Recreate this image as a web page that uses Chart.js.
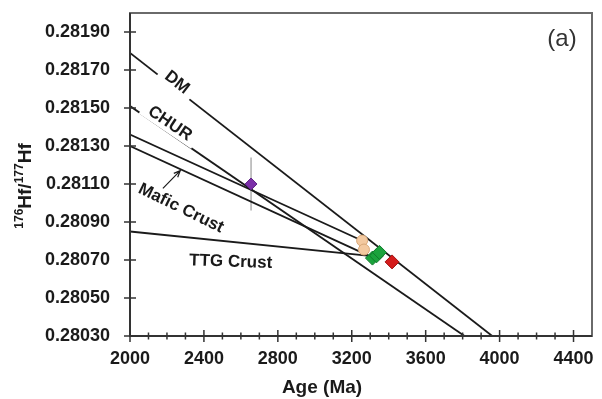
<!DOCTYPE html>
<html>
<head>
<meta charset="utf-8">
<script src="https://cdn.jsdelivr.net/npm/chart.js@4.4.1/dist/chart.umd.min.js"></script>
<style>
  html, body { margin: 0; padding: 0; background: #fff; }
  #wrap { width: 602px; height: 399px; }
</style>
</head>
<body>
<div id="wrap"><canvas id="hfChart" width="602" height="399"></canvas></div>
<script>
// Axis ticks
const xTickLabels = [2000, 2400, 2800, 3200, 3600, 4000, 4400];
const xMinorStep = 100;
const yTickLabels = [0.28030, 0.28050, 0.28070, 0.28090, 0.28110, 0.28130, 0.28150, 0.28170, 0.28190];

// Evolution lines (age in Ma, 176Hf/177Hf)
const dmAge = [2000, 3960];
const dmHf = [0.28179, 0.28030];
const churAge = [2000, 3810];
const churHf = [0.28151, 0.28030];
const mafic1Age = [2000, 3260];
const mafic1Hf = [0.28136, 0.28080];
const mafic2Age = [2000, 3320];
const mafic2Hf = [0.28130, 0.28071];
const ttgAge = [2000, 3310];
const ttgHf = [0.28085, 0.28072];

// Samples
const purpleAge = [2655];
const purpleHf = [0.28110];
const purpleErr = [0.00014];
const peachAge = [3256, 3266];
const peachHf = [0.280802, 0.280755];
const greenAge = [3312, 3334, 3350];
const greenHf = [0.28071, 0.280722, 0.28074];
const redAge = [3418];
const redHf = [0.28069];

// text on the plot
const lineLabels = [
    { text: 'DM', age: 2254, hf: 0.281634, angle: 38, gap: true },
    { text: 'CHUR', age: 2216, hf: 0.281418, angle: 34, gap: true },
    { text: 'Mafic Crust', age: 2276, hf: 0.280972, angle: 26, gap: false },
    { text: 'TTG Crust', age: 2545, hf: 0.280690, angle: 2, gap: false }
];
const maficArrow = { fromAge: 2178, fromHf: 0.281077, toAge: 2272, toHf: 0.281170 };

const pts = (xs, ys) => xs.map((x, i) => ({ x: x, y: ys[i] }));

function lineSet(xs, ys) {
    return {
        data: pts(xs, ys),
        showLine: true,
        borderColor: '#1a1a1a',
        borderWidth: 1.8,
        pointRadius: 0,
        order: 2
    };
}

const FONT = '"Liberation Sans", Arial, sans-serif';

const decorPlugin = {
    id: 'decor',
    beforeDatasetsDraw(chart) {
        const { ctx, chartArea: a, scales: { x, y } } = chart;
        ctx.save();
        // frame
        ctx.strokeStyle = '#6a6a6a';
        ctx.lineWidth = 2;
        ctx.strokeRect(a.left, a.top, a.right - a.left, a.bottom - a.top);
        // error bar
        ctx.strokeStyle = '#9a9a9a';
        ctx.lineWidth = 1.2;
        purpleAge.forEach((age, i) => {
            const px = x.getPixelForValue(age);
            ctx.beginPath();
            ctx.moveTo(px, y.getPixelForValue(purpleHf[i] + purpleErr[i]));
            ctx.lineTo(px, y.getPixelForValue(purpleHf[i] - purpleErr[i]));
            ctx.stroke();
        });
        ctx.restore();
    },
    afterDatasetsDraw(chart) {
        const { ctx, chartArea: a, scales: { x, y } } = chart;
        ctx.save();
        // axis lines and ticks
        ctx.strokeStyle = '#333';
        ctx.lineWidth = 2;
        ctx.beginPath();
        ctx.moveTo(a.left, a.top);
        ctx.lineTo(a.left, a.bottom);
        ctx.lineTo(a.right, a.bottom);
        ctx.stroke();
        ctx.lineWidth = 1.5;
        ctx.beginPath();
        yTickLabels.forEach(v => {
            const py = y.getPixelForValue(v);
            ctx.moveTo(a.left - 6, py);
            ctx.lineTo(a.left + 6, py);
        });
        for (let v = x.min; v < x.max; v += xMinorStep) {
            const px = x.getPixelForValue(v);
            const len = xTickLabels.includes(v) ? 6 : 3.5;
            ctx.moveTo(px, a.bottom - len);
            ctx.lineTo(px, a.bottom + len);
        }
        ctx.stroke();

        // line labels
        lineLabels.forEach(l => {
            const px = x.getPixelForValue(l.age);
            const py = y.getPixelForValue(l.hf);
            ctx.save();
            ctx.translate(px, py);
            ctx.rotate(l.angle * Math.PI / 180);
            ctx.font = 'bold 17px ' + FONT;
            ctx.textAlign = 'center';
            ctx.textBaseline = 'middle';
            if (l.gap) {
                const w = ctx.measureText(l.text).width + 14;
                ctx.fillStyle = '#fff';
                ctx.fillRect(-w / 2, -9, w, 18);
            }
            ctx.fillStyle = '#1a1a1a';
            ctx.fillText(l.text, 0, 0);
            ctx.restore();
        });

        // arrow to mafic crust lines
        const ax0 = x.getPixelForValue(maficArrow.fromAge), ay0 = y.getPixelForValue(maficArrow.fromHf);
        const ax1 = x.getPixelForValue(maficArrow.toAge), ay1 = y.getPixelForValue(maficArrow.toHf);
        const ang = Math.atan2(ay1 - ay0, ax1 - ax0);
        ctx.strokeStyle = '#1a1a1a';
        ctx.lineWidth = 1.2;
        ctx.beginPath();
        ctx.moveTo(ax0, ay0);
        ctx.lineTo(ax1, ay1);
        ctx.moveTo(ax1 - 7 * Math.cos(ang - 0.4), ay1 - 7 * Math.sin(ang - 0.4));
        ctx.lineTo(ax1, ay1);
        ctx.lineTo(ax1 - 7 * Math.cos(ang + 0.4), ay1 - 7 * Math.sin(ang + 0.4));
        ctx.stroke();

        // panel letter
        ctx.fillStyle = '#333';
        ctx.font = '24px ' + FONT;
        ctx.textAlign = 'center';
        ctx.textBaseline = 'middle';
        ctx.fillText('(a)', 562, 39);

        // x title
        ctx.fillStyle = '#1a1a1a';
        ctx.font = 'bold 19px ' + FONT;
        ctx.fillText('Age (Ma)', 322, 388);

        // y title with superscripts
        const parts = [
            { t: '176', f: 'bold 12px ' + FONT, dy: -6 },
            { t: 'Hf/', f: 'bold 19px ' + FONT, dy: 0 },
            { t: '177', f: 'bold 12px ' + FONT, dy: -6 },
            { t: 'Hf', f: 'bold 19px ' + FONT, dy: 0 }
        ];
        let total = 0;
        parts.forEach(p => { ctx.font = p.f; p.w = ctx.measureText(p.t).width; total += p.w; });
        ctx.translate(26, 186);
        ctx.rotate(-Math.PI / 2);
        ctx.textAlign = 'left';
        ctx.textBaseline = 'middle';
        let cx = -total / 2;
        parts.forEach(p => {
            ctx.font = p.f;
            ctx.fillText(p.t, cx, p.dy);
            cx += p.w;
        });
        ctx.restore();
    }
};

new Chart(document.getElementById('hfChart'), {
    type: 'scatter',
    data: {
        datasets: [
            lineSet(dmAge, dmHf),
            lineSet(churAge, churHf),
            lineSet(mafic1Age, mafic1Hf),
            lineSet(mafic2Age, mafic2Hf),
            lineSet(ttgAge, ttgHf),
            {
                data: pts(purpleAge, purpleHf),
                pointStyle: 'rectRot', pointRadius: 6,
                backgroundColor: '#7b2fa8', borderColor: '#5e2285', borderWidth: 1, order: 0
            },
            {
                data: pts(greenAge, greenHf),
                pointStyle: 'rectRot', pointRadius: 7,
                backgroundColor: '#1aa33c', borderColor: '#0f7a2a', borderWidth: 1, order: 0
            },
            {
                data: pts(peachAge, peachHf),
                pointStyle: 'circle', pointRadius: 5.5,
                backgroundColor: '#f3c9a0', borderColor: '#d9a878', borderWidth: 1, order: 0
            },
            {
                data: pts(redAge, redHf),
                pointStyle: 'rectRot', pointRadius: 7,
                backgroundColor: '#d41c1c', borderColor: '#a01010', borderWidth: 1, order: 0
            }
        ]
    },
    options: {
        responsive: false,
        animation: false,
        layout: { padding: { left: 0, top: 13, right: 10, bottom: 0 } },
        plugins: { legend: { display: false }, tooltip: { enabled: false } },
        scales: {
            x: {
                type: 'linear',
                min: 2000,
                max: 4500,
                afterBuildTicks: s => { s.ticks = xTickLabels.map(v => ({ value: v })); },
                afterFit: s => { s.height = 63; s.paddingLeft = 0; s.paddingRight = 0; },
                grid: { display: false, drawTicks: false },
                border: { display: false },
                ticks: {
                    padding: 12,
                    color: '#1a1a1a',
                    font: { family: FONT, size: 18, weight: 'bold' },
                    callback: v => String(v)
                }
            },
            y: {
                type: 'linear',
                min: 0.28030,
                max: 0.28200,
                afterBuildTicks: s => { s.ticks = yTickLabels.map(v => ({ value: v })); },
                afterFit: s => { s.width = 130; s.paddingTop = 0; s.paddingBottom = 0; },
                grid: { display: false, drawTicks: false },
                border: { display: false },
                ticks: {
                    padding: 20,
                    color: '#1a1a1a',
                    font: { family: FONT, size: 18, weight: 'bold' },
                    callback: v => v.toFixed(5)
                }
            }
        }
    },
    plugins: [decorPlugin]
});
</script>
</body>
</html>
